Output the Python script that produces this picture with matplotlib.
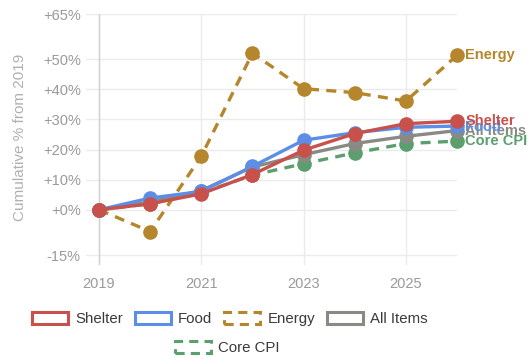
import matplotlib.pyplot as plt
from matplotlib.patches import Patch

plt.rcParams['font.family'] = ['Liberation Sans', 'DejaVu Sans']

years = [2019, 2020, 2021, 2022, 2023, 2024, 2025, 2026]
shelter = [0, 2.0, 5.3, 11.7, 19.8, 25.3, 28.6, 29.4]
food = [0, 3.9, 6.1, 14.4, 23.1, 25.6, 27.4, 27.8]
energy = [0, -7.2, 17.8, 52.0, 40.2, 38.9, 36.1, 51.3]
all_items = [0, 2.6, 6.4, 14.2, 18.3, 22.0, 24.4, 26.3]
core_cpi = [0, 2.0, 5.6, 11.5, 15.3, 18.9, 22.0, 22.8]

yticks = [-15, 0, 10, 20, 30, 40, 50, 65]
ytick_labels = ['-15%', '+0%', '+10%', '+20%', '+30%', '+40%', '+50%', '+65%']
xticks = [2019, 2021, 2023, 2025]

# name, values, colour, dashed, label y-offset (points)
series = [
    ('Core CPI', core_cpi, '#5b9f6e', True, 0),
    ('All Items', all_items, '#8a8a84', False, 0),
    ('Energy', energy, '#b5862b', True, 0),
    ('Food', food, '#5b8ee6', False, -0.5),
    ('Shelter', shelter, '#c8514b', False, 0.5),
]

fig = plt.figure(figsize=(5.29, 3.59), dpi=100)
ax = fig.add_axes([0.163, 0.262, 0.701, 0.699])

for name, vals, color, dashed, dy in series:
    ax.plot(years, vals, color=color, lw=2.4,
            ls=(0, (3, 2.2)) if dashed else '-',
            marker='o', ms=9.5, clip_on=False, zorder=3)
    ax.annotate(name, (years[-1], vals[-1]), xytext=(6, dy), textcoords='offset points',
                va='center', ha='left', fontsize=10.5, color=color,
                fontweight='bold', annotation_clip=False)

ax.set_xlim(2018.75, 2026)
ax.set_ylim(-18.3, 65)
ax.set_yticks(yticks)
ax.set_yticklabels(ytick_labels)
ax.set_xticks(xticks)
for s in ax.spines.values():
    s.set_visible(False)
ax.tick_params(length=0, colors='#9a9a9a', labelsize=10.5)
ax.tick_params(axis='y', pad=4)
ax.tick_params(axis='x', pad=9)
ax.grid(True, color='#ebebeb', lw=1)
ax.axvline(2019, color='#d0d0d0', lw=1, zorder=1)
ax.set_axisbelow(True)

fig.text(20 / 529, 1 - 137 / 359, 'Cumulative % from 2019', rotation=90,
         ha='center', va='center', fontsize=11, color='#b0b0b0')

def box(color, dashed):
    return Patch(facecolor='white', edgecolor=color, lw=2.2,
                 ls=(0, (3, 2)) if dashed else '-')

legend_kw = dict(loc='center', frameon=False, fontsize=10.8, handlelength=2.4,
                 handleheight=0.87, handletextpad=0.47, columnspacing=0.8,
                 labelcolor='#3a3a3a', borderpad=0, borderaxespad=0)

row1 = [('Shelter', '#c8514b', False), ('Food', '#5b8ee6', False),
        ('Energy', '#b5862b', True), ('All Items', '#8a8a84', False)]
fig.legend([box(c, d) for _, c, d in row1], [n for n, _, _ in row1],
           bbox_to_anchor=(230 / 529, 1 - 319 / 359), ncol=4, **legend_kw)
fig.legend([box('#5b9f6e', True)], ['Core CPI'],
           bbox_to_anchor=(227 / 529, 1 - 348 / 359), **legend_kw)

fig.savefig('out.png', dpi=100)
